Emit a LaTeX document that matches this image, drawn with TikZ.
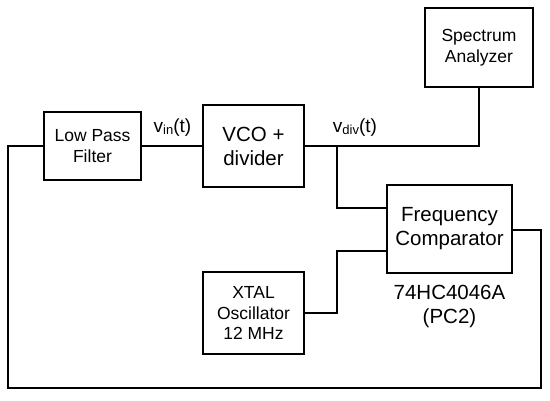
\documentclass[tikz,border=0pt]{standalone}
\usepackage{fontspec}
\setmainfont{Liberation Sans}
\begin{document}
\begin{tikzpicture}[x=1pt,y=-1pt,
  wire/.style={line width=2pt},
  blk/.style={draw,line width=2pt,align=center,inner sep=0pt},
  small/.style={font=\fontsize{17.5}{20.5}\selectfont},
  big/.style={font=\fontsize{20.5}{24}\selectfont},
  lbl/.style={font=\fontsize{19}{20}\selectfont,inner sep=0pt,anchor=base}]
\useasboundingbox (0,0) rectangle (550,400);
\node[blk,small,minimum width=97pt,minimum height=68pt] (lpf) at (92.5,146) {Low Pass\\Filter};
\node[blk,big,minimum width=101pt,minimum height=82pt] (vco) at (253.5,146) {VCO +\\divider};
\node[blk,small,minimum width=108pt,minimum height=79pt] (sa) at (479,47.5) {Spectrum\\Analyzer};
\node[blk,big,minimum width=125pt,minimum height=88pt] (fc) at (449.5,229) {Frequency\\Comparator};
\node[blk,small,minimum width=101pt,minimum height=82pt] (xt) at (253.5,313) {XTAL\\Oscillator\\12 MHz};
\node[big,align=center,inner sep=0pt] (ic) at (449.5,306) {74HC4046A\\(PC2)};
\node[lbl] (vin) at (172.5,132) {v\raisebox{-2.5pt}{\fontsize{13}{13}\selectfont in}(t)};
\node[lbl] (vdiv) at (355,132) {v\raisebox{-2.5pt}{\fontsize{13}{13}\selectfont div}(t)};
\coordinate (b1) at (337,146);
\coordinate (sac) at (479,146);
\coordinate (x1) at (337,313);
\coordinate (r1) at (541,230);
\coordinate (r2) at (541,388);
\coordinate (l1) at (8,388);
\coordinate (l2) at (8,146);
\draw[wire] (lpf.east) -- (vco.west);
\draw[wire] (vco.east) -- (sac) -- (sa.south);
\draw[wire] (b1) |- ([yshift=21pt]fc.west);
\draw[wire] (xt.east) -- (x1) |- ([yshift=-22pt]fc.west);
\draw[wire] ([yshift=-1pt]fc.east) -- (r1) -- (r2) -- (l1) -- (l2) -- (lpf.west);
\end{tikzpicture}
\end{document}
